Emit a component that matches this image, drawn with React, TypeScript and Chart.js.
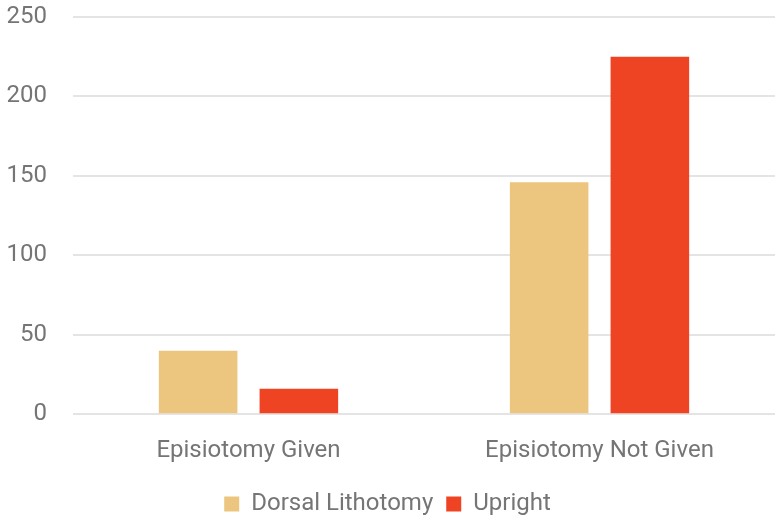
import React, { useEffect, useRef } from "react";
import { Chart, registerables } from "chart.js";

Chart.register(...registerables);

const categories = ["Episiotomy Given", "Episiotomy Not Given"];
const dorsalLithotomy = [40, 146];
const upright = [16, 225];
const yTicks = [0, 50, 100, 150, 200, 250];

export default function App() {
  const ref = useRef<HTMLCanvasElement | null>(null);
  useEffect(() => {
    if (!ref.current) return;
    const font = { family: "Roboto", size: 24 };
    const chart = new Chart(ref.current, {
      type: "bar",
      data: {
        labels: categories,
        datasets: [
          {
            label: "Dorsal Lithotomy",
            data: dorsalLithotomy,
            backgroundColor: "#ECC57E",
            categoryPercentage: 0.574,
            barPercentage: 0.78,
          },
          {
            label: "Upright",
            data: upright,
            backgroundColor: "#EE4423",
            categoryPercentage: 0.574,
            barPercentage: 0.78,
          },
        ],
      },
      options: {
        animation: false,
        responsive: false,
        maintainAspectRatio: false,
        layout: { padding: { top: 17, right: 0, left: 0, bottom: 0 } },
        plugins: {
          legend: {
            position: "bottom",
            labels: {
              font,
              color: "#757575",
              boxWidth: 15,
              boxHeight: 15,
              padding: 13,
            },
          },
          tooltip: { enabled: false },
        },
        scales: {
          x: {
            grid: { display: false },
            border: { display: false },
            ticks: { font, color: "#757575", padding: 14 },
          },
          y: {
            min: 0,
            max: 250,
            afterBuildTicks: (axis: any) => {
              axis.ticks = yTicks.map((v) => ({ value: v }));
            },
            afterFit: (axis: any) => {
              axis.width = 73;
              axis.paddingTop = 0;
              axis.paddingBottom = 0;
            },
            grid: { color: "#e4e4e4", lineWidth: 2, drawTicks: false },
            border: { display: false },
            ticks: { font, color: "#757575", padding: 26 },
          },
        },
      },
    });
    return () => chart.destroy();
  }, []);
  return (
    <div style={{ position: "absolute", left: 0, top: 0, width: 775, height: 520, overflow: "hidden", background: "#fff" }}>
      <canvas ref={ref} width={775} height={526} style={{ width: 775, height: 526 }} />
    </div>
  );
}
